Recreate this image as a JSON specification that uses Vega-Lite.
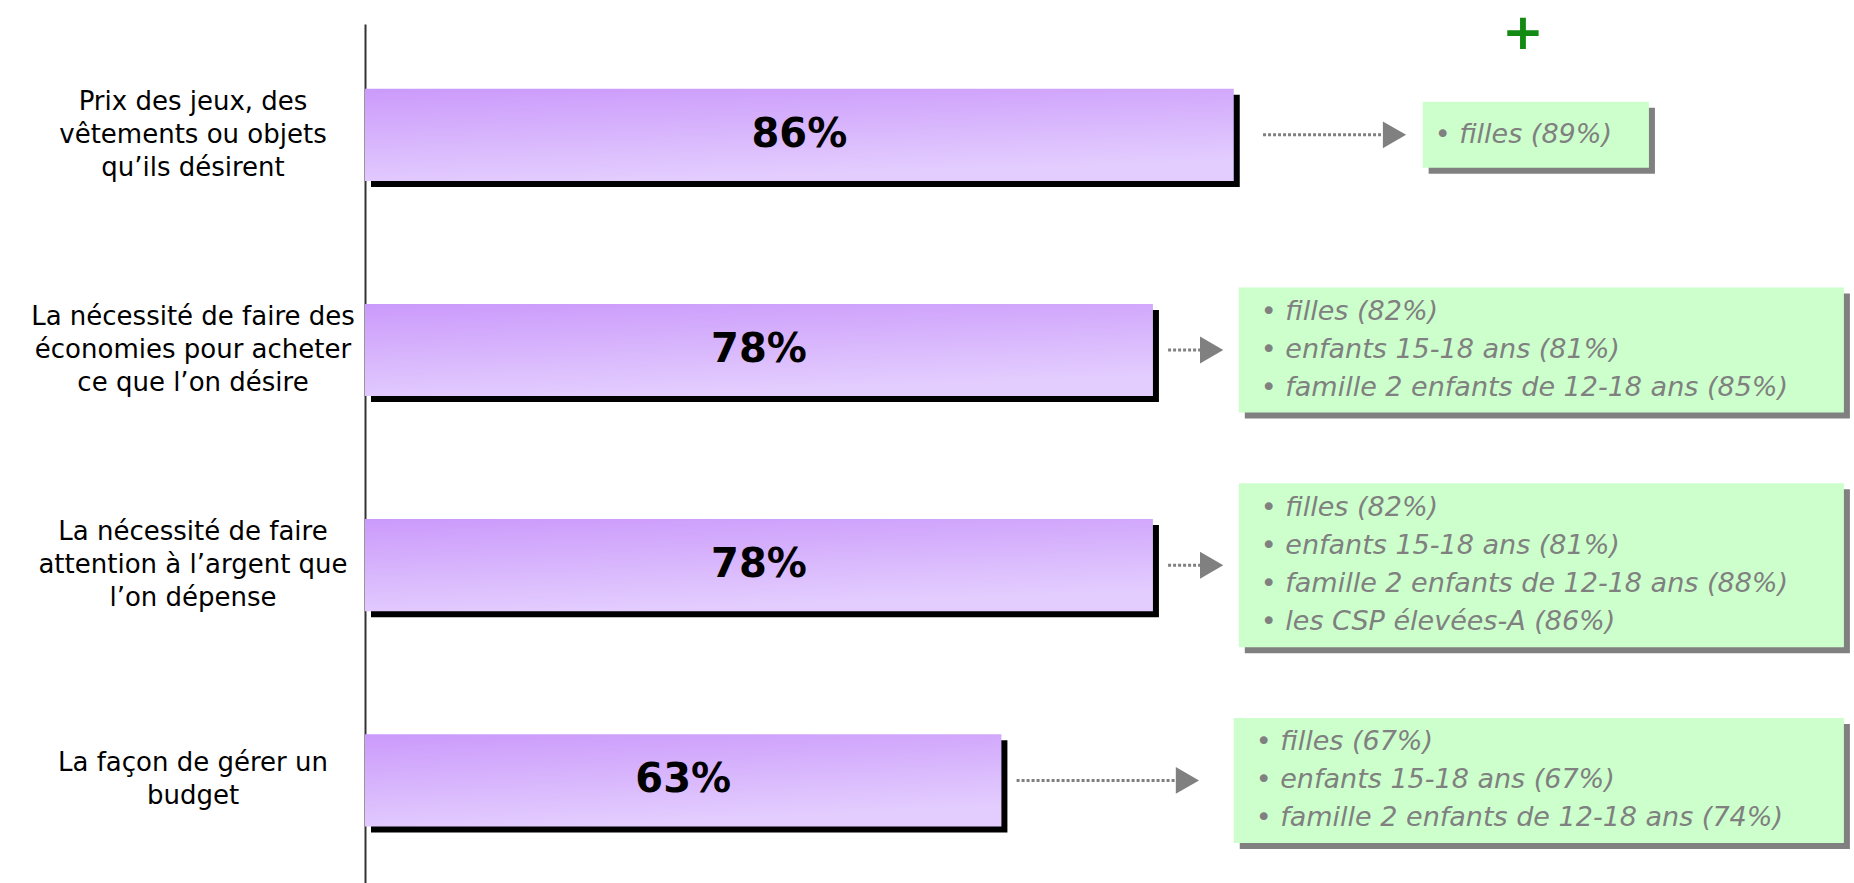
{
  "$schema": "https://vega.github.io/schema/vega-lite/v6.json",
  "width": 1489,
  "height": 859,
  "autosize": {"type": "none"},
  "padding": {"left": 365, "top": 24, "right": 0, "bottom": 0},
  "background": "white",
  "config": {"view": {"stroke": null}, "font": "DejaVu Sans"},
  "title": {"text": "+", "color": "#138a13", "fontSize": 50, "fontWeight": "bold", "anchor": "start", "frame": "group", "dx": 1137, "offset": -60, "baseline": "middle"},
  "data": {
    "values": [
      {"item": "Prix des jeux, des|vêtements ou objets|qu’ils désirent", "value": 86, "notes": ["• filles (89%)"], "n_lines": 1, "arrow_from": 88.9, "arrow_to": 103.1, "box_from": 104.7, "box_to": 127.1},
      {"item": "La nécessité de faire des|économies pour acheter|ce que l’on désire", "value": 78, "notes": ["• filles (82%)", "• enfants 15-18 ans (81%)", "• famille 2 enfants de 12-18 ans (85%)"], "n_lines": 3, "arrow_from": 79.5, "arrow_to": 85.0, "box_from": 86.5, "box_to": 146.4},
      {"item": "La nécessité de faire|attention à l’argent que|l’on dépense", "value": 78, "notes": ["• filles (82%)", "• enfants 15-18 ans (81%)", "• famille 2 enfants de 12-18 ans (88%)", "• les CSP élevées-A (86%)"], "n_lines": 4, "arrow_from": 79.5, "arrow_to": 85.0, "box_from": 86.5, "box_to": 146.4},
      {"item": "La façon de gérer un|budget", "value": 63, "notes": ["• filles (67%)", "• enfants 15-18 ans (67%)", "• famille 2 enfants de 12-18 ans (74%)"], "n_lines": 3, "arrow_from": 64.5, "arrow_to": 82.6, "box_from": 86.0, "box_to": 146.4}
    ]
  },
  "encoding": {
    "y": {
      "field": "item", "type": "nominal", "sort": null,
      "scale": {"paddingInner": 0.5716, "paddingOuter": 0.2817, "align": 0.534},
      "axis": {
        "title": null, "ticks": false, "labels": false,
        "domainColor": "#333333", "domainWidth": 2
      }
    }
  },
  "layer": [
    {
      "mark": {"type": "bar", "color": "#000000", "xOffset": 6, "x2Offset": 6, "yOffset": 6, "y2Offset": 6},
      "encoding": {"x": {"field": "value", "type": "quantitative", "scale": {"domain": [0, 147.4], "nice": false, "zero": true}, "axis": null}}
    },
    {
      "mark": {"type": "bar", "color": {"gradient": "linear", "x1": 0, "y1": 0, "x2": 0.3, "y2": 1, "stops": [{"offset": 0, "color": "#cb9afb"}, {"offset": 1, "color": "#e3cdfe"}]}},
      "encoding": {"x": {"field": "value", "type": "quantitative", "axis": null}}
    },
    {
      "transform": [{"calculate": "datum.value / 2", "as": "mid"}, {"calculate": "datum.value + '%'", "as": "pct"}],
      "mark": {"type": "text", "align": "center", "baseline": "middle", "fontSize": 40, "fontWeight": "bold", "color": "#000000", "font": "DejaVu Sans"},
      "encoding": {"x": {"field": "mid", "type": "quantitative", "axis": null}, "text": {"field": "pct", "type": "nominal"}}
    },
    {
      "transform": [{"calculate": "split(datum.item, '|')", "as": "label_lines"}, {"filter": "length(datum.label_lines) == 3"}],
      "mark": {"type": "text", "align": "center", "baseline": "middle", "dx": -172, "dy": -33, "fontSize": 26, "lineHeight": 33, "color": "#000000", "font": "DejaVu Sans"},
      "encoding": {"x": {"datum": 0, "type": "quantitative", "axis": null}, "text": {"field": "label_lines", "type": "nominal"}}
    },
    {
      "transform": [{"calculate": "split(datum.item, '|')", "as": "label_lines"}, {"filter": "length(datum.label_lines) == 2"}],
      "mark": {"type": "text", "align": "center", "baseline": "middle", "dx": -172, "dy": -17, "fontSize": 26, "lineHeight": 33, "color": "#000000", "font": "DejaVu Sans"},
      "encoding": {"x": {"datum": 0, "type": "quantitative", "axis": null}, "text": {"field": "label_lines", "type": "nominal"}}
    },
    {
      "mark": {"type": "rule", "color": "#808080", "strokeWidth": 3, "strokeDash": [3, 2], "x2Offset": -18},
      "encoding": {"x": {"field": "arrow_from", "type": "quantitative", "axis": null}, "x2": {"field": "arrow_to"}}
    },
    {
      "mark": {"type": "point", "shape": "triangle-right", "filled": true, "opacity": 1, "color": "#808080", "size": 720, "xOffset": -12},
      "encoding": {"x": {"field": "arrow_to", "type": "quantitative", "axis": null}}
    },
    {
      "mark": {"type": "bar", "color": "#808080", "xOffset": 6, "x2Offset": 6, "yOffset": 6, "y2Offset": 6},
      "encoding": {
        "x": {"field": "box_from", "type": "quantitative", "axis": null}, "x2": {"field": "box_to"},
        "size": {"field": "n_lines", "type": "quantitative", "scale": {"domain": [1, 3, 4], "range": [66, 125, 164]}, "legend": null}
      }
    },
    {
      "mark": {"type": "bar", "color": "#ccffcc"},
      "encoding": {
        "x": {"field": "box_from", "type": "quantitative", "axis": null}, "x2": {"field": "box_to"},
        "size": {"field": "n_lines", "type": "quantitative", "legend": null}
      }
    },
    {
      "transform": [{"filter": "datum.n_lines == 1"}],
      "mark": {"type": "text", "align": "left", "baseline": "middle", "dx": 12, "fontSize": 27, "fontStyle": "italic", "color": "#808080", "lineHeight": 38, "font": "DejaVu Sans"},
      "encoding": {"x": {"field": "box_from", "type": "quantitative", "axis": null}, "text": {"field": "notes", "type": "nominal"}}
    },
    {
      "transform": [{"filter": "datum.n_lines == 3"}],
      "mark": {"type": "text", "align": "left", "baseline": "middle", "dx": 22, "dy": -38, "fontSize": 27, "fontStyle": "italic", "color": "#808080", "lineHeight": 38, "font": "DejaVu Sans"},
      "encoding": {"x": {"field": "box_from", "type": "quantitative", "axis": null}, "text": {"field": "notes", "type": "nominal"}}
    },
    {
      "transform": [{"filter": "datum.n_lines == 4"}],
      "mark": {"type": "text", "align": "left", "baseline": "middle", "dx": 22, "dy": -57, "fontSize": 27, "fontStyle": "italic", "color": "#808080", "lineHeight": 38, "font": "DejaVu Sans"},
      "encoding": {"x": {"field": "box_from", "type": "quantitative", "axis": null}, "text": {"field": "notes", "type": "nominal"}}
    }
  ]
}
